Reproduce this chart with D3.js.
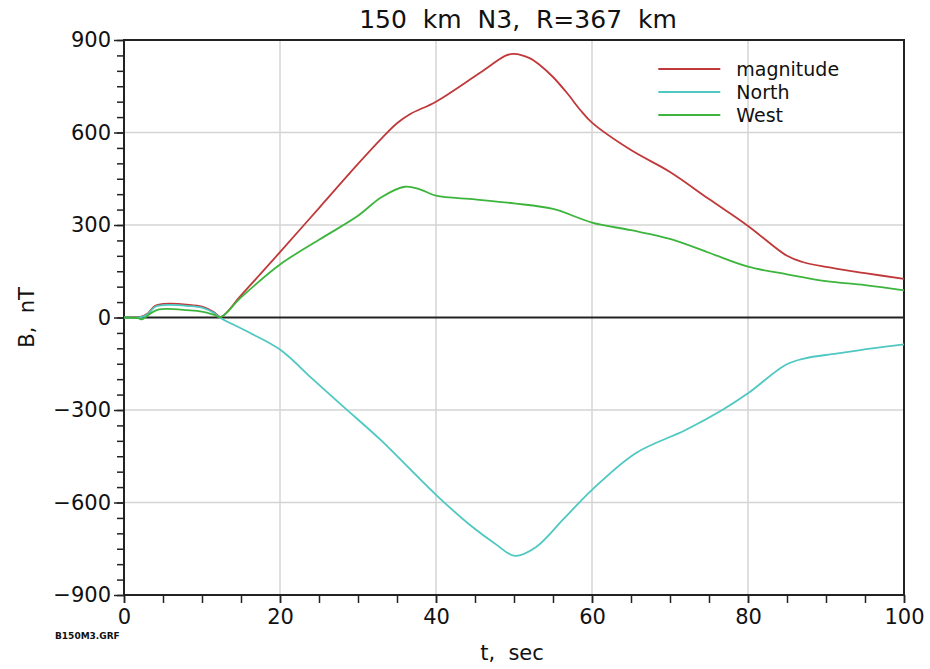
<!DOCTYPE html>
<html>
<head>
<meta charset="utf-8">
<script src="https://cdnjs.cloudflare.com/ajax/libs/d3/7.8.5/d3.min.js"></script>
<style>
  body { margin: 0; background: #fff; }
  text { font-family: "DejaVu Sans", sans-serif; fill: #111; }
</style>
</head>
<body>
<svg width="930" height="669"></svg>
<script>
// time axis, sec
var tMag = [0, 2, 3, 4, 5, 6, 8, 10, 11.5, 12.4, 15, 20, 25, 30, 33, 35, 36.7, 40, 45.6, 49, 50, 52, 53.3, 55, 56.8, 58.5, 60, 65, 70, 75, 80, 85, 87, 90, 95, 100];
var magnitude = [0, 1, 12, 38, 44, 45, 42, 35, 18, 2, 72, 212, 355, 498, 580, 630, 660, 700, 793, 850, 855, 841, 819, 780, 728, 673, 632, 543, 472, 384, 297, 200, 180, 164, 144, 125];

var tNorth = [0, 2, 3, 4, 5, 6, 8, 10, 11.5, 12.2, 16, 20, 24.2, 28.3, 32.9, 40, 44.6, 47.5, 50.1, 52.8, 56.3, 60, 65.6, 72, 76.7, 80, 84.8, 87.2, 91.3, 95.9, 100];
var north = [0, 0, 10, 35, 40, 41, 38, 32, 15, 1, -48, -104, -200, -293, -397, -575, -678, -732, -773, -745, -655, -559, -440, -365, -300, -246, -154, -133, -117, -100, -87];

var tWest = [0, 1.8, 2.3, 2.8, 3.5, 4.5, 5.5, 8, 10, 11.5, 12.4, 15, 20, 25, 30, 33, 36, 38, 40, 45, 50, 55, 60, 65, 70, 75, 80, 85, 90, 95, 100];
var west = [0, -2, -6, 2, 15, 26, 28, 24, 19, 9, 1, 65, 172, 252, 330, 390, 424, 415, 395, 383, 370, 352, 308, 283, 255, 210, 165, 140, 118, 105, 88];

var seriesNames = ["magnitude", "North", "West"];
var seriesColors = ["#c0393a", "#4fc8c2", "#3db53d"];

var xTicks = [0, 20, 40, 60, 80, 100];
var yTicks = [-900, -600, -300, 0, 300, 600, 900];

var series = [
  { name: seriesNames[0], color: seriesColors[0], values: d3.zip(tMag, magnitude) },
  { name: seriesNames[1], color: seriesColors[1], values: d3.zip(tNorth, north) },
  { name: seriesNames[2], color: seriesColors[2], values: d3.zip(tWest, west) }
];

var svg = d3.select("svg"),
    margin = {top: 40, right: 26, bottom: 74, left: 124},
    width = +svg.attr("width") - margin.left - margin.right,
    height = +svg.attr("height") - margin.top - margin.bottom,
    g = svg.append("g").attr("transform", "translate(" + margin.left + "," + margin.top + ")");

var x = d3.scaleLinear().domain([0, 100]).range([0, width]);
var y = d3.scaleLinear().domain([-900, 900]).range([height, 0]);

// grid
g.selectAll(".vgrid")
  .data(xTicks.slice(1, -1))
  .enter().append("line")
    .attr("x1", function(d) { return x(d); })
    .attr("x2", function(d) { return x(d); })
    .attr("y1", 0).attr("y2", height)
    .attr("stroke", "#d4d4d4").attr("stroke-width", 1.5);

g.selectAll(".hgrid")
  .data(yTicks.filter(function(d) { return d !== 0 && Math.abs(d) !== 900; }))
  .enter().append("line")
    .attr("x1", 0).attr("x2", width)
    .attr("y1", function(d) { return y(d); })
    .attr("y2", function(d) { return y(d); })
    .attr("stroke", "#d4d4d4").attr("stroke-width", 1.5);

// zero line
g.append("line")
    .attr("x1", 0).attr("x2", width)
    .attr("y1", y(0)).attr("y2", y(0))
    .attr("stroke", "#222").attr("stroke-width", 2);

// minor ticks
g.append("g")
    .attr("transform", "translate(0," + height + ")")
    .call(d3.axisBottom(x).tickValues(d3.range(0, 101, 5)).tickSize(8).tickFormat(""))
    .call(function(s) { s.select(".domain").remove(); s.selectAll("line").attr("stroke", "#222").attr("stroke-width", 1.5); });

g.append("g")
    .call(d3.axisLeft(y).tickValues(d3.range(-900, 901, 50)).tickSize(7).tickFormat(""))
    .call(function(s) { s.select(".domain").remove(); s.selectAll("line").attr("stroke", "#222").attr("stroke-width", 1.5); });

// major labels
var xAxis = g.append("g")
    .attr("transform", "translate(0," + height + ")")
    .call(d3.axisBottom(x).tickValues(xTicks).tickSize(8).tickPadding(4));
xAxis.select(".domain").remove();
xAxis.selectAll("line").attr("stroke", "#222").attr("stroke-width", 1.5);
xAxis.selectAll("text").style("font-size", "21px").attr("dy", "0.8em").style("fill", "#111");

var yAxis = g.append("g")
    .call(d3.axisLeft(y).tickValues(yTicks).tickSize(10).tickPadding(3)
      .tickFormat(function(d) { return d < 0 ? "\u2212" + Math.abs(d) : d; }));
yAxis.select(".domain").remove();
yAxis.selectAll("line").attr("stroke", "#222").attr("stroke-width", 1.5);
yAxis.selectAll("text").style("font-size", "21px").style("fill", "#111");

// frame
g.append("path")
    .attr("d", "M0,0H" + width + "V" + height + "H0Z")
    .attr("fill", "none").attr("stroke", "#222").attr("stroke-width", 2);

// curves
var line = d3.line()
    .x(function(d) { return x(d[0]); })
    .y(function(d) { return y(d[1]); })
    .curve(d3.curveCatmullRom.alpha(0.5));

g.selectAll(".series")
  .data(series)
  .enter().append("path")
    .attr("fill", "none")
    .attr("stroke", function(d) { return d.color; })
    .attr("stroke-width", 1.8)
    .attr("d", function(d) { return line(d.values); });

// legend
var legend = g.append("g").attr("transform", "translate(" + (x(68.5)) + "," + 29 + ")");
series.forEach(function(s, i) {
  legend.append("line")
      .attr("x1", 0).attr("x2", 62)
      .attr("y1", i * 23).attr("y2", i * 23)
      .attr("stroke", s.color).attr("stroke-width", 1.8);
  legend.append("text")
      .attr("x", 78).attr("y", i * 23).attr("dy", "0.35em")
      .style("font-size", "19px")
      .text(s.name);
});

// titles
svg.append("text")
    .attr("x", 518).attr("y", 28)
    .attr("text-anchor", "middle")
    .style("font-size", "25px")
    .style("white-space", "pre")
    .text("150  km  N3,  R=367  km");

svg.append("text")
    .attr("x", 512).attr("y", 660)
    .attr("text-anchor", "middle")
    .style("font-size", "21px")
    .style("white-space", "pre")
    .text("t,  sec");

svg.append("text")
    .attr("transform", "translate(34," + (margin.top + y(0)) + ") rotate(-90)")
    .attr("text-anchor", "middle")
    .style("font-size", "21px")
    .style("white-space", "pre")
    .text("B,  nT");

svg.append("text")
    .attr("x", 55).attr("y", 639)
    .style("font-size", "9px")
    .style("font-weight", "bold")
    .text("B150M3.GRF");
</script>
</body>
</html>
